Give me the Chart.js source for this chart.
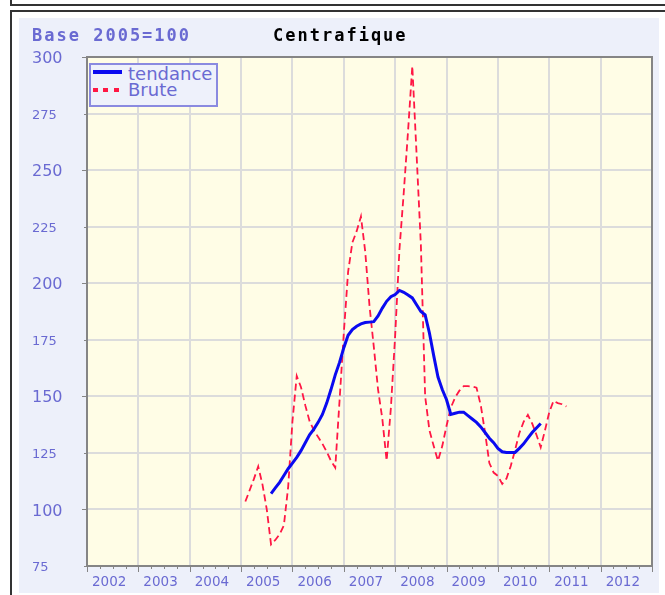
<!DOCTYPE html>
<html lang="fr">
<head>
<meta charset="utf-8">
<title>Centrafique</title>
<script src="https://cdn.jsdelivr.net/npm/chart.js@4.4.1/dist/chart.umd.min.js"></script>
<style>
  html, body { margin: 0; padding: 0; background: #ffffff; }
  #page { position: relative; width: 665px; height: 595px; overflow: hidden; background: #ffffff; }
  #topRule { position: absolute; left: 10px; top: -4px; width: 700px; height: 8px; border-left: 2px solid #333; border-bottom: 2px solid #333; }
  #frame { position: absolute; left: 10px; top: 10px; width: 700px; height: 700px; border-left: 2px solid #333; border-top: 2px solid #333; }
  #panel { position: absolute; left: 19px; top: 18px; width: 640px; height: 575px; background: #edf0fa; }
  #chart { position: absolute; left: 0; top: 0; }
  .head { position: absolute; top: 27px; font-family: "DejaVu Sans Mono", monospace; font-size: 17px; line-height: 17px; letter-spacing: 2px; font-weight: bold; white-space: nowrap; }
  #unit { left: 32px; color: #6a6ad2; }
  #title { left: 273px; color: #000000; }
  #legend { position: absolute; left: 89px; top: 63px; width: 129px; height: 44px; box-sizing: border-box; border: 2px solid #8a8ae0; background: #eef1fb; }
  .swatch { position: absolute; }
  #swTrend { left: 93px; top: 70px; width: 29px; height: 4px; background: #0a0af0; }
  .dot { top: 88px; width: 5px; height: 4px; background: #ff1744; }
  .key { position: absolute; left: 128px; font-family: "DejaVu Sans", sans-serif; font-size: 18px; line-height: 18px; color: #6a6ad2; white-space: nowrap; }
</style>
</head>
<body>
<div id="page">
  <div id="topRule"></div>
  <div id="frame"></div>
  <div id="panel"></div>
  <canvas id="chart" width="665" height="595"></canvas>
  <div class="head" id="unit">Base 2005=100</div>
  <div class="head" id="title">Centrafique</div>
  <div id="legend"></div>
  <div class="swatch" id="swTrend"></div>
  <div class="swatch dot" style="left:93px"></div>
  <div class="swatch dot" style="left:103px"></div>
  <div class="swatch dot" style="left:114px"></div>
  <div class="key" style="top:65px">tendance</div>
  <div class="key" style="top:81px">Brute</div>
</div>
<script>
// Monthly price index, base 2005 = 100
const bruteStart = '2005-02';
const brute = [
  103.5, 108.5, 113.5, 119, 111, 100, 84.5, 86.5, 89, 93, 110,            // 2005 (Feb-Dec)
  139, 159, 154, 146, 139, 135, 132, 129, 125.5, 121.5, 118.5, 148,      // 2006
  178, 205, 218, 223, 229.5, 214, 190, 172, 153, 140, 121.5, 145,        // 2007
  177, 215, 240, 267, 296, 257, 217, 150, 135, 128, 121.5, 128,          // 2008
  137, 145, 149.5, 152.5, 154.5, 154.5, 154.3, 153.8, 146, 134, 120.5, 116.3, // 2009
  114.8, 111.3, 113.7, 119.2, 126.2, 133.7, 138.7, 141.8, 138, 133, 127.5, 135, // 2010
  143, 148, 147, 146.5, 145.5                                            // 2011 (Jan-May)
];

// Trend (centred 12-month smoothing)
const tendanceStart = '2005-08';
const tendance = [
  107, 109.5, 112, 115, 118,                                             // 2005 (Aug-Dec)
  120.5, 123, 126, 129.5, 133, 135.5, 138.5, 142, 147, 153, 159.5, 165,  // 2006
  171.5, 177, 179.5, 181, 182, 182.6, 182.8, 183, 185.5, 189, 192, 194,  // 2007
  195, 196.8, 196, 194.8, 193.5, 190.5, 187.5, 186, 178, 168, 158.5, 153, // 2008
  148.5, 142, 142.5, 143, 143, 141.5, 140, 138.5, 136.5, 134, 131.5, 129.5, // 2009
  127, 125.5, 125.2, 125.2, 125.2, 127, 129, 131.5, 134, 136, 138        // 2010 (Jan-Nov)
];

const yearLabels = ['2002', '2003', '2004', '2005', '2006', '2007', '2008', '2009', '2010', '2011', '2012'];
const yMin = 75, yMax = 300, yStep = 25;
const xMin = 2002, xMax = 2013;

const labelColor = '#6a6ad2';
const gridColor = '#dcdcdc';
const axisColor = '#858585';
const plotFill = '#fffde6';

// position of a month on the continuous year axis
function monthPos(start, i) {
  const [y, m] = start.split('-').map(Number);
  return y + (m - 1 + i) / 12;
}
const toPoints = (start, values) => values.map((v, i) => ({ x: monthPos(start, i), y: v }));

// plot background, frame and tick marks
const plotFrame = {
  id: 'plotFrame',
  beforeDraw(chart) {
    const { ctx, chartArea: a } = chart;
    ctx.save();
    ctx.fillStyle = plotFill;
    ctx.fillRect(a.left, a.top, a.right - a.left, a.bottom - a.top);
    ctx.restore();
  },
  afterDatasetsDraw(chart) {
    const { ctx, chartArea: a, scales: { x, y } } = chart;
    ctx.save();
    ctx.strokeStyle = axisColor;
    ctx.lineWidth = 2;
    ctx.strokeRect(a.left, a.top, a.right - a.left, a.bottom - a.top);
    ctx.lineWidth = 1;
    ctx.beginPath();
    for (let q = 0; q <= (xMax - xMin) * 4; q++) {
      const px = Math.round(x.getPixelForValue(xMin + q / 4)) + 0.5;
      const len = q % 4 === 0 ? 6 : 3;
      ctx.moveTo(px, a.bottom);
      ctx.lineTo(px, a.bottom + len);
    }
    for (let v = yMin; v <= yMax; v += yStep) {
      const py = Math.round(y.getPixelForValue(v)) + 0.5;
      const len = v % 50 === 0 ? 5 : 3;
      ctx.moveTo(a.left, py);
      ctx.lineTo(a.left - len, py);
    }
    ctx.stroke();
    ctx.restore();
  }
};

new Chart(document.getElementById('chart'), {
  type: 'line',
  data: {
    datasets: [
      {
        label: 'tendance',
        data: toPoints(tendanceStart, tendance),
        borderColor: '#0a0af0',
        borderWidth: 3,
        pointRadius: 0,
        tension: 0,
        order: 0
      },
      {
        label: 'Brute',
        data: toPoints(bruteStart, brute),
        borderColor: '#ff1744',
        borderWidth: 1.8,
        borderDash: [7, 4],
        pointRadius: 0,
        tension: 0,
        order: 1
      }
    ]
  },
  options: {
    responsive: false,
    animation: false,
    layout: { padding: { left: 32, top: 57, right: 13, bottom: 0 } },
    plugins: { legend: { display: false }, tooltip: { enabled: false }, title: { display: false } },
    scales: {
      x: {
        type: 'linear',
        min: xMin,
        max: xMax,
        afterBuildTicks(scale) {
          const ticks = [];
          for (let q = 0; q <= (xMax - xMin) * 4; q++) ticks.push({ value: xMin + q / 4 });
          scale.ticks = ticks;
        },
        afterFit(scale) { scale.height = 29; },
        border: { display: false },
        grid: {
          drawTicks: false,
          lineWidth: 2,
          color: (c) => (c.tick && c.tick.value % 1 === 0 ? gridColor : 'rgba(0,0,0,0)')
        },
        ticks: {
          autoSkip: false,
          maxRotation: 0,
          padding: 8,
          labelOffset: -3.5,
          color: labelColor,
          font: { family: 'DejaVu Sans', size: 13.5 },
          callback: (v) => (v % 1 === 0.5 ? yearLabels[Math.floor(v) - xMin] : '')
        }
      },
      y: {
        min: yMin,
        max: yMax,
        afterFit(scale) { scale.width = 55; },
        border: { display: false },
        grid: { drawTicks: false, lineWidth: 2, color: gridColor },
        ticks: {
          stepSize: yStep,
          crossAlign: 'far',
          labelOffset: 2,
          color: labelColor,
          font: (c) => ({ family: 'DejaVu Sans', size: c.tick && c.tick.value % 50 === 0 ? 16 : 13 })
        }
      }
    }
  },
  plugins: [plotFrame]
});
</script>
</body>
</html>
